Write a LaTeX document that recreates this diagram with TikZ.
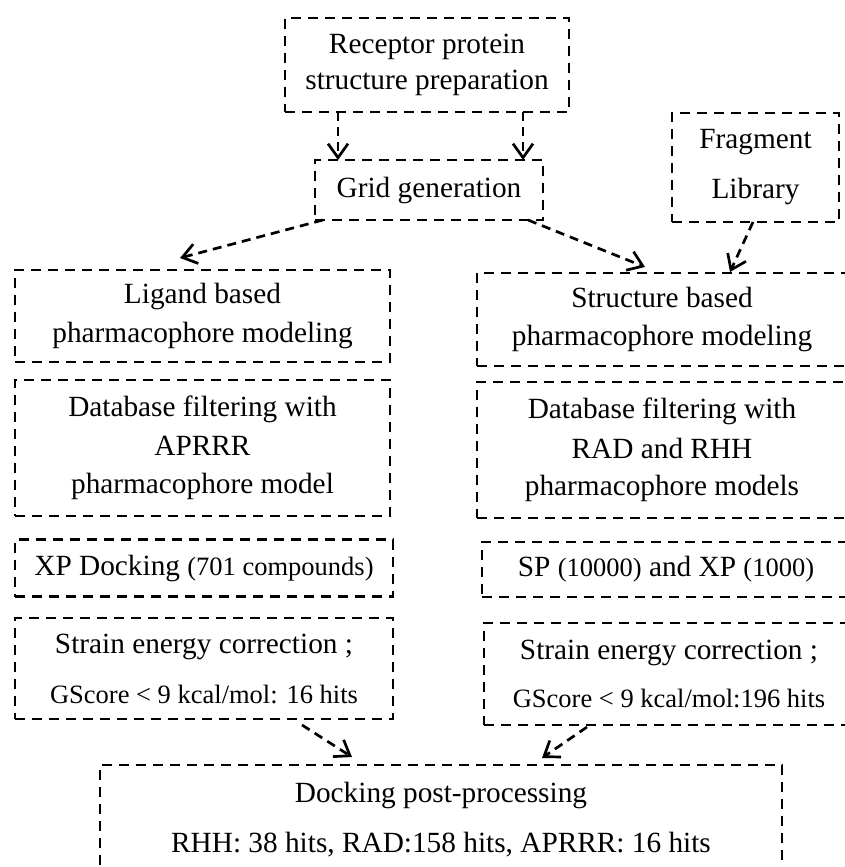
\documentclass[tikz,border=0pt]{standalone}
\usepackage{fontspec}
\setmainfont{Liberation Serif}
\usetikzlibrary{arrows.meta}
\newcommand{\bigtxt}{\fontsize{29.3}{38}\selectfont}
\newcommand{\smtxt}{\fontsize{26.5}{38}\selectfont}

\begin{document}
\begin{tikzpicture}[x=1pt,y=-1pt,
  stepbox/.style={draw,rectangle,dash pattern=on 10pt off 7pt,line width=2.9pt,inner sep=0pt,outer sep=0pt,align=center,font=\bigtxt},
  flow/.style={dash pattern=on 9pt off 6pt,line width=2.7pt,-{Straight Barb[length=14pt,width=20pt]}}]
\useasboundingbox (0,0) rectangle (845,867);

\node[stepbox,minimum width=284pt,minimum height=94pt] (rec) at (427,65) {Receptor protein\\[-1.5pt]structure preparation};
\node[stepbox,minimum width=228pt,minimum height=60pt] (grid) at (429,190) {Grid generation};
\node[stepbox,minimum width=167pt,minimum height=109pt] (frag) at (755.5,167.5) {Fragment\\[12pt]Library};

\node[stepbox,minimum width=375pt,minimum height=92pt] (lig) at (202.5,316) {Ligand based\\[1pt]pharmacophore modeling};
\node[stepbox,minimum width=375pt,minimum height=136pt] (dbl) at (202.5,448) {Database filtering with\\[1pt]APRRR\\[0pt]pharmacophore model};
\node[stepbox,minimum width=378pt,minimum height=57pt] (xpl) at (204,568) {XP Docking {\smtxt(701 compounds)}};
\node[stepbox,minimum width=378pt,minimum height=101pt] (strl) at (204,668.5) {Strain energy correction ;\\[12pt]{\smtxt GScore < 9 kcal/mol: 16 hits}};

\node[stepbox,minimum width=370pt,minimum height=93pt] (str) at (662,319.5) {Structure based\\[0pt]pharmacophore modeling};
\node[stepbox,minimum width=370pt,minimum height=136pt] (dbr) at (662,450) {Database filtering with\\[2pt]RAD and RHH\\[-1pt]pharmacophore models};
\node[stepbox,minimum width=368pt,minimum height=55pt] (spr) at (666,569.5) {SP {\smtxt(10000)} and XP {\smtxt(1000)}};
\node[stepbox,minimum width=370pt,minimum height=102pt] (strr) at (669,674) {Strain energy correction ;\\[10pt]{\smtxt GScore < 9 kcal/mol:196 hits}};

\node[stepbox,minimum width=682pt,minimum height=110pt] (dock) at (441,820) {Docking post-processing\\[12pt]RHH: 38 hits, RAD:158 hits, APRRR: 16 hits};

\draw[flow] ([xshift=53pt]rec.south west) -- ([xshift=23pt]grid.north west);
\draw[flow] ([xshift=-46pt]rec.south east) -- ([xshift=-20pt]grid.north east);
\draw[flow] ([xshift=8pt]grid.south west) -- ([xshift=-22.5pt,yshift=12pt]lig.north);
\draw[flow] ([xshift=-15pt]grid.south east) -- ([xshift=168pt,yshift=6pt]str.north west);
\draw[flow] ([xshift=-2.5pt]frag.south) -- ([xshift=253pt,yshift=1pt]str.north west);
\draw[flow] ([xshift=287pt,yshift=-6pt]strl.south west) -- ([xshift=252pt,yshift=8pt]dock.north west);
\draw[flow] ([xshift=103pt,yshift=-2pt]strr.south west) -- ([xshift=442pt,yshift=7pt]dock.north west);

\end{tikzpicture}
\end{document}
